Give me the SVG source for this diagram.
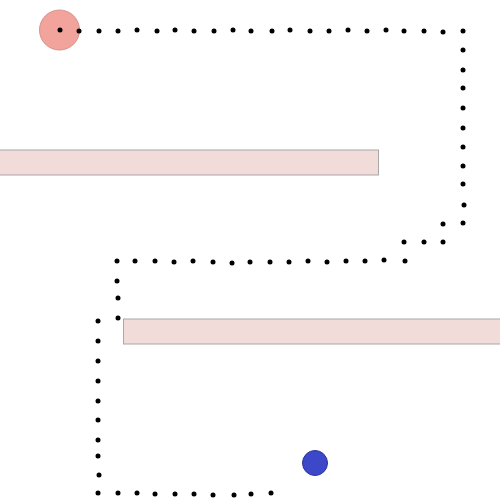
<svg xmlns="http://www.w3.org/2000/svg" width="500" height="500" viewBox="0 0 500 500">
<style>
.wall{fill:#f2dcda;stroke:#a8a8a8;stroke-width:1}
.dot{fill:#000}
</style>
<defs>
<circle id="d" r="2.5" class="dot"/>
</defs>
<rect width="500" height="500" fill="#fff"/>
<g id="walls">
<rect class="wall" x="-2" y="150" width="380.5" height="25"/>
<rect class="wall" x="123.5" y="319" width="380" height="25"/>
</g>
<g id="start"><circle cx="59.5" cy="30" r="20" fill="#f2a39c" stroke="#d8928b" stroke-width="1"/></g>
<g id="goal"><circle cx="315" cy="463" r="12.5" fill="#3d47c9" stroke="#2b339a" stroke-width="1"/></g>
<g id="connectors">
<use href="#d" x="60" y="30"/><use href="#d" x="79" y="31"/><use href="#d" x="99" y="31"/><use href="#d" x="118" y="31"/><use href="#d" x="137" y="30"/><use href="#d" x="157" y="31"/><use href="#d" x="175" y="30"/><use href="#d" x="194" y="31"/><use href="#d" x="214" y="31"/><use href="#d" x="233" y="30"/><use href="#d" x="251" y="31"/><use href="#d" x="272" y="31"/><use href="#d" x="290" y="30"/><use href="#d" x="310" y="31"/><use href="#d" x="329" y="31"/><use href="#d" x="348" y="30"/><use href="#d" x="367" y="31"/><use href="#d" x="386" y="30"/><use href="#d" x="404" y="31"/><use href="#d" x="424" y="31"/><use href="#d" x="443" y="32"/><use href="#d" x="463" y="31"/>
<use href="#d" x="463" y="50"/><use href="#d" x="463" y="70"/><use href="#d" x="463" y="88"/><use href="#d" x="463" y="108"/><use href="#d" x="463" y="128"/><use href="#d" x="463" y="147"/><use href="#d" x="463" y="166"/><use href="#d" x="463" y="184"/><use href="#d" x="464" y="205"/><use href="#d" x="463" y="223"/>
<use href="#d" x="443" y="224"/><use href="#d" x="443" y="242"/><use href="#d" x="424" y="242"/><use href="#d" x="404" y="242"/><use href="#d" x="405" y="261"/>
<use href="#d" x="384" y="260"/><use href="#d" x="365" y="261"/><use href="#d" x="346" y="261"/><use href="#d" x="327" y="262"/><use href="#d" x="308" y="261"/><use href="#d" x="289" y="262"/><use href="#d" x="270" y="262"/><use href="#d" x="250" y="262"/><use href="#d" x="232" y="263"/><use href="#d" x="213" y="262"/><use href="#d" x="193" y="261"/><use href="#d" x="174" y="262"/><use href="#d" x="155" y="261"/><use href="#d" x="135" y="261"/><use href="#d" x="117" y="261"/>
<use href="#d" x="117" y="281"/><use href="#d" x="118" y="298"/><use href="#d" x="118" y="318"/>
<use href="#d" x="98" y="321"/><use href="#d" x="98" y="341"/><use href="#d" x="98" y="361"/><use href="#d" x="98" y="381"/><use href="#d" x="98" y="401"/><use href="#d" x="98" y="420"/><use href="#d" x="98" y="440"/><use href="#d" x="98" y="456"/><use href="#d" x="99" y="475"/><use href="#d" x="98" y="493"/>
<use href="#d" x="118" y="493"/><use href="#d" x="137" y="493"/><use href="#d" x="155" y="494"/><use href="#d" x="175" y="494"/><use href="#d" x="194" y="494"/><use href="#d" x="213" y="495"/><use href="#d" x="234" y="495"/><use href="#d" x="251" y="494"/><use href="#d" x="271" y="493"/>
</g>
</svg>
